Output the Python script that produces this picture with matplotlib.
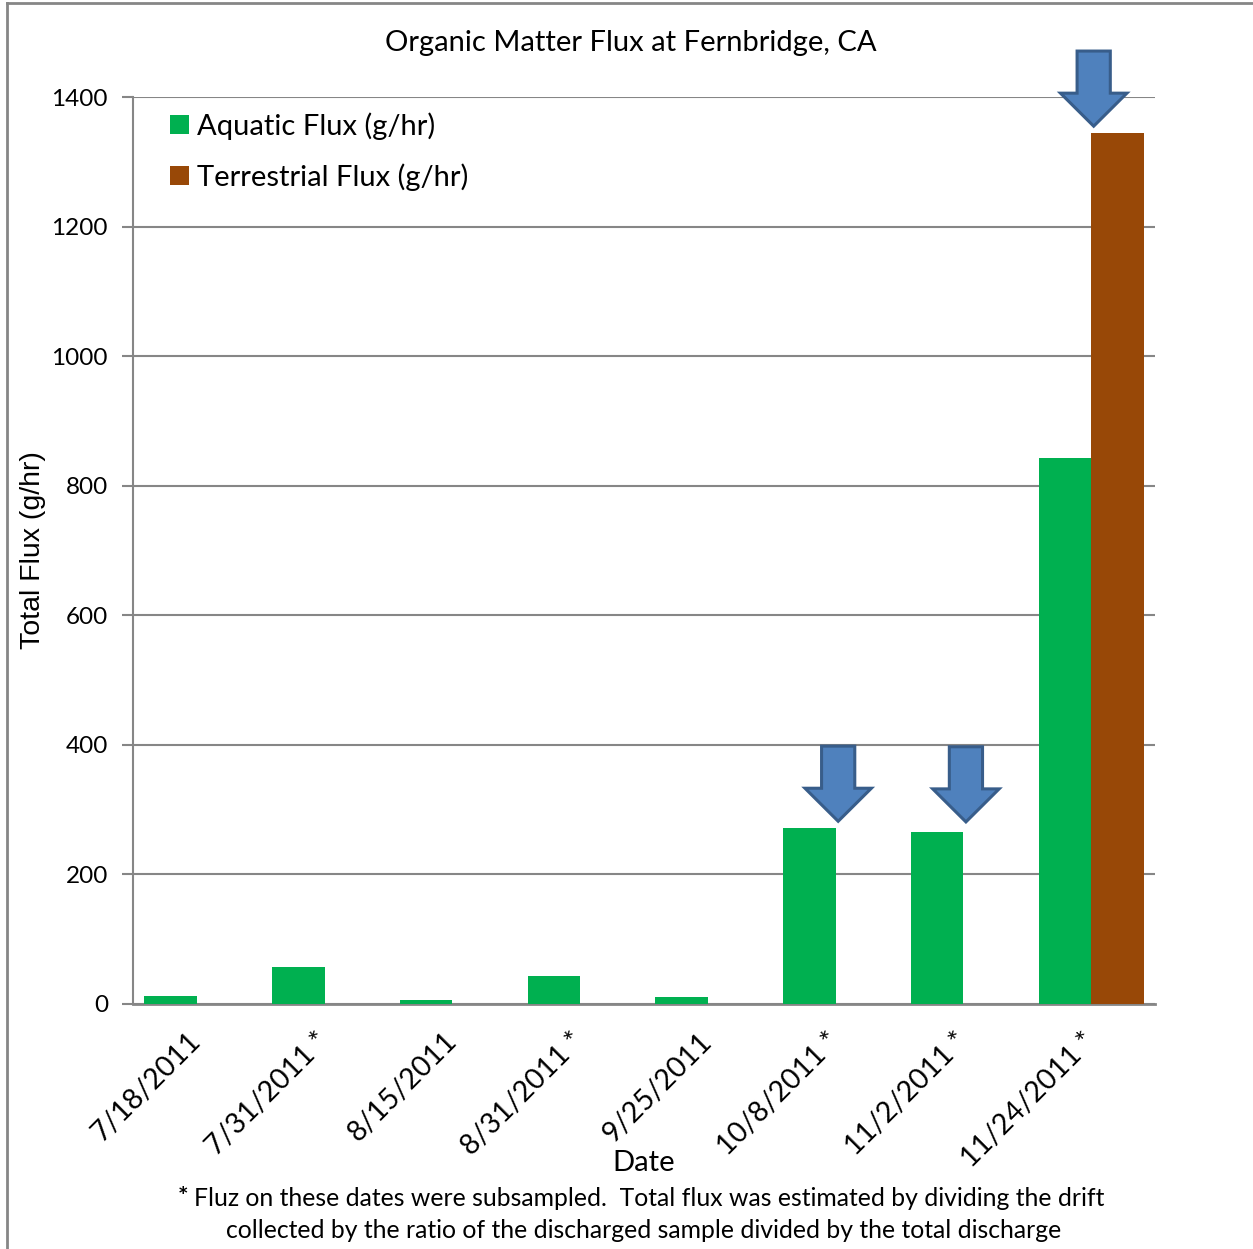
import matplotlib
matplotlib.use("Agg")
import matplotlib.pyplot as plt
from matplotlib.patches import Polygon
from matplotlib.lines import Line2D

plt.rcParams['font.family'] = ['Lato', 'DejaVu Sans']

dates = ["7/18/2011", "7/31/2011 *", "8/15/2011", "8/31/2011 *", "9/25/2011",
         "10/8/2011 *", "11/2/2011 *", "11/24/2011 *"]
aquatic = [12, 57, 6, 43, 11, 272, 265, 843]
terrestrial = [0, 0, 0, 0, 0, 0, 0, 1344]

# down arrows pointing at the large samples (category index, tip value)
arrow_idx = [5, 6, 7]
arrow_tip = [282, 281, 1355]

green = "#00B050"
brown = "#984807"
grid_col = "#868686"

fig = plt.figure(figsize=(12.53, 12.49), dpi=100)
ax = fig.add_axes([0.1061, 0.1962, 0.8157, 0.7261])

x = list(range(len(dates)))
w = 0.41
ax.bar([i - w / 2 for i in x], aquatic, width=w, color=green, label="Aquatic Flux (g/hr)", zorder=3)
ax.bar([i + w / 2 for i in x], terrestrial, width=w, color=brown, label="Terrestrial Flux (g/hr)", zorder=3)

ax.set_xlim(-0.5, len(dates) - 0.5)
ax.set_ylim(0, 1400)
ax.set_yticks(range(0, 1401, 200))
ax.yaxis.grid(True, color=grid_col, linewidth=1.5, zorder=0)
ax.set_axisbelow(True)
for s in ["top", "right"]:
    ax.spines[s].set_visible(False)
ax.spines["left"].set_color(grid_col)
ax.spines["left"].set_linewidth(1.5)
ax.spines["bottom"].set_color(grid_col)
ax.spines["bottom"].set_linewidth(2)
ax.tick_params(axis="y", length=8, width=1.5, color=grid_col, pad=10, labelsize=17.5)
ax.tick_params(axis="x", length=0, pad=24, labelsize=20.5)
ax.set_xticks(x)
ax.set_xticklabels(dates, rotation=45, ha="right", va="center", rotation_mode="anchor")

fig.text(631 / 1253, 1 - 43 / 1249, "Organic Matter Flux at Fernbridge, CA", fontsize=21,
         ha="center", va="center")
ax.set_xlabel("Date", fontsize=21, va="center")
ax.xaxis.set_label_coords(0.5, -159 / 907)
ax.set_ylabel("Total Flux (g/hr)", fontsize=20.5, family=["Liberation Sans", "DejaVu Sans"], va="center")
ax.yaxis.set_label_coords(-100 / 1022, 0.5)

ax.legend(loc="upper left", bbox_to_anchor=(0.011, 1.012), frameon=False, fontsize=21,
          handlelength=0.62, handleheight=0.62, handletextpad=0.3, labelspacing=0.8)

# block arrows
sh, hh = 0.13, 0.26      # half widths of shaft and head (category units)
length, head = 116, 51   # total length and head length (data units)
for i, tip in zip(arrow_idx, arrow_tip):
    cx = i + 0.02
    pts = [(cx - sh, tip + length), (cx + sh, tip + length), (cx + sh, tip + head),
           (cx + hh, tip + head), (cx, tip), (cx - hh, tip + head), (cx - sh, tip + head)]
    ax.add_patch(Polygon(pts, closed=True, facecolor="#4F81BD", edgecolor="#385D8A",
                         linewidth=2.2, joinstyle="miter", clip_on=False, zorder=5))

# footnote
note1 = fig.text(0.5185, 1 - 1198 / 1249, "Fluz on these dates were subsampled.  Total flux was estimated by dividing the drift",
                 ha="center", va="center", fontsize=17.8)
fig.text(0.5135, 1 - 1231 / 1249, "collected by the ratio of the discharged sample divided by the total discharge",
         ha="center", va="center", fontsize=17.8)
fig.canvas.draw()
bb = note1.get_window_extent()
fig.text((bb.x0 - 6) / fig.bbox.width, 1 - 1198 / 1249, "*", ha="right", va="center",
         fontsize=17.8, fontweight="bold")

# outer frame (left and top edges)
fig.add_artist(Line2D([0.0056, 0.0056], [0, 0.9976], color=grid_col, linewidth=2))
fig.add_artist(Line2D([0.0056, 1], [0.9976, 0.9976], color=grid_col, linewidth=2))

fig.savefig("out.png", dpi=100)
